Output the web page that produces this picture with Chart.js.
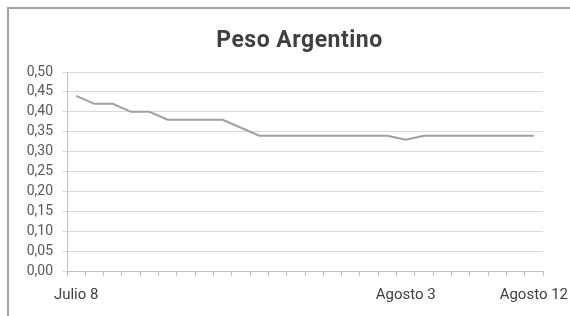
<!DOCTYPE html>
<html>
<head>
<meta charset="utf-8">
<script src="https://cdn.jsdelivr.net/npm/chart.js@4/dist/chart.umd.min.js"></script>
<style>
  html, body { margin: 0; padding: 0; background: #fff; }
  #frame {
    position: absolute; left: 7px; top: 7px; right: 0; bottom: 0;
    border-left: 2px solid #a2a2a2; border-top: 2px solid #a2a2a2;
  }
  #wrap { position: absolute; left: 0; top: 0; width: 570px; height: 316px; }
  #title {
    position: absolute; left: 0; top: 26px; width: 599px;
    text-align: center; line-height: 28px;
    font-family: Roboto, "Noto Sans", sans-serif; font-size: 23px; font-weight: bold;
    letter-spacing: 0.5px; color: #404040;
  }
</style>
</head>
<body>
<div id="frame"></div>
<div id="wrap"><canvas id="chart" width="570" height="316"></canvas></div>
<div id="title">Peso Argentino</div>
<script>
"use strict";

// daily quotes, only some days are labelled on the axis
var categories = [
    "Julio 8", "", "", "", "", "", "", "", "", "", "", "", "", "",
    "", "", "", "", "Agosto 3", "", "", "", "", "", "", "Agosto 12"
];
var pesoValues = [
    0.44, 0.42, 0.42, 0.40, 0.40, 0.38, 0.38, 0.38, 0.38, 0.36, 0.34, 0.34, 0.34,
    0.34, 0.34, 0.34, 0.34, 0.34, 0.33, 0.34, 0.34, 0.34, 0.34, 0.34, 0.34, 0.34
];
var yTicks = { min: 0, max: 0.5, step: 0.05 };

var fontFamily = "Roboto, 'Noto Sans', sans-serif";

var chart = new Chart(document.getElementById("chart"), {
    type: "line",
    data: {
        labels: categories,
        datasets: [{
            label: "Peso Argentino",
            data: pesoValues,
            borderColor: "#a0a0a0",
            borderWidth: 2,
            pointRadius: 0,
            tension: 0,
            fill: false
        }]
    },
    options: {
        responsive: false,
        animation: false,
        layout: { padding: { left: 0, right: 27, top: 72, bottom: 0 } },
        plugins: {
            legend: { display: false },
            tooltip: { enabled: false },
            title: { display: false }
        },
        scales: {
            x: {
                offset: true,
                grid: {
                    offset: true,
                    drawOnChartArea: false,
                    drawTicks: true,
                    tickLength: 5,
                    color: "#bfbfbf"
                },
                border: { color: "#bfbfbf", width: 1 },
                ticks: {
                    autoSkip: false,
                    maxRotation: 0,
                    padding: 10,
                    color: "#404040",
                    font: { family: fontFamily, size: 15 },
                    callback: function(value, index) {
                        return categories[index];
                    }
                },
                afterFit: function(scale) {
                    scale.height = 45;
                    scale.paddingLeft = 0;
                    scale.paddingRight = 0;
                }
            },
            y: {
                min: yTicks.min,
                max: yTicks.max,
                grid: { color: "#d9d9d9", tickLength: 5 },
                border: { color: "#bfbfbf", width: 1 },
                ticks: {
                    stepSize: yTicks.step,
                    padding: 9,
                    color: "#595959",
                    font: { family: fontFamily, size: 14 },
                    callback: function(value) {
                        return (Math.round(value * 100) / 100).toFixed(2).replace(".", ",");
                    }
                },
                afterFit: function(scale) {
                    scale.width = 67;
                    scale.paddingTop = 0;
                    scale.paddingBottom = 0;
                }
            }
        }
    }
});
</script>
</body>
</html>
